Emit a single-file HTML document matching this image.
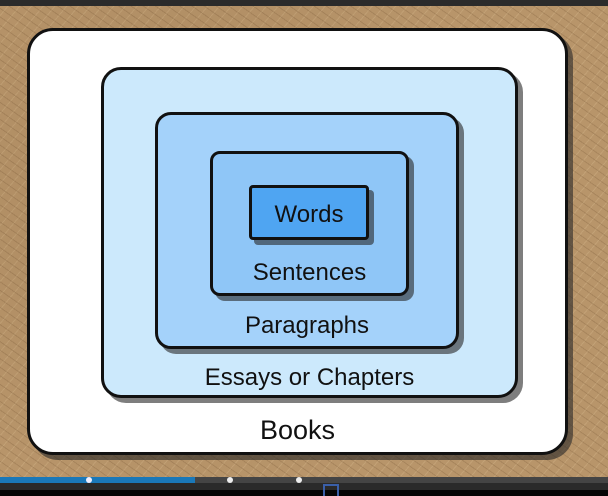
<!DOCTYPE html>
<html><head><style>
body{margin:0;width:608px;height:496px;overflow:hidden;position:relative;font-family:"Liberation Sans",Arial,Helvetica,sans-serif;
background:#b38f63;}
.bg{position:absolute;left:0;top:0;width:608px;height:496px;
background:
radial-gradient(circle at 30% 40%,rgba(90,60,30,.15),rgba(0,0,0,0) 60%),
repeating-linear-gradient(35deg,rgba(90,60,30,.18) 0 1px,rgba(0,0,0,0) 1px 7px),
repeating-linear-gradient(-50deg,rgba(240,215,170,.18) 0 1px,rgba(0,0,0,0) 1px 9px),
#b8956a;}
.b{position:absolute;box-sizing:border-box;border:3px solid #111;box-shadow:5px 5px 0 rgba(40,40,40,.6);}
.t{position:absolute;left:0;width:100%;text-align:center;color:#111;font-family:"Liberation Sans",Arial,Helvetica,sans-serif;}
</style></head><body>
<div class="bg"></div>
<div style="position:absolute;left:0;top:0;width:608px;height:6px;background:#2b2b2b"></div>
<div class="b" style="left:27px;top:28px;width:541px;height:427px;border-radius:26px;background:#fff">
 <div class="t" style="top:384px;font-size:27px">Books</div></div>
<div class="b" style="left:101px;top:67px;width:417px;height:331px;border-radius:20px;background:#cce9fc">
 <div class="t" style="top:294px;font-size:24px">Essays or Chapters</div></div>
<div class="b" style="left:155px;top:112px;width:304px;height:237px;border-radius:16px;background:#a4d2fa">
 <div class="t" style="top:197px;font-size:24px">Paragraphs</div></div>
<div class="b" style="left:210px;top:151px;width:199px;height:145px;border-radius:10px;background:#8fc6f7">
 <div class="t" style="top:105px;font-size:24px">Sentences</div></div>
<div class="b" style="left:249px;top:185px;width:120px;height:55px;border-radius:4px;background:#4fa5f2">
 <div class="t" style="top:13px;font-size:24px">Words</div></div>
<div style="position:absolute;left:0;top:477px;width:608px;height:6px;background:#444"></div>
<div style="position:absolute;left:0;top:477px;width:195px;height:6px;background:#1a78b8"></div>
<div style="position:absolute;left:86px;top:477px;width:6px;height:6px;border-radius:3px;background:#eef"></div>
<div style="position:absolute;left:227px;top:477px;width:6px;height:6px;border-radius:3px;background:#eee"></div>
<div style="position:absolute;left:296px;top:477px;width:6px;height:6px;border-radius:3px;background:#eee"></div>
<div style="position:absolute;left:0;top:483px;width:608px;height:7px;background:#2a2a2a"></div>
<div style="position:absolute;left:0;top:490px;width:608px;height:6px;background:#050505"></div>
<div style="position:absolute;left:323px;top:484px;width:16px;height:12px;box-sizing:border-box;border:2px solid #3a5fa8;border-bottom:none"></div>
</body></html>
